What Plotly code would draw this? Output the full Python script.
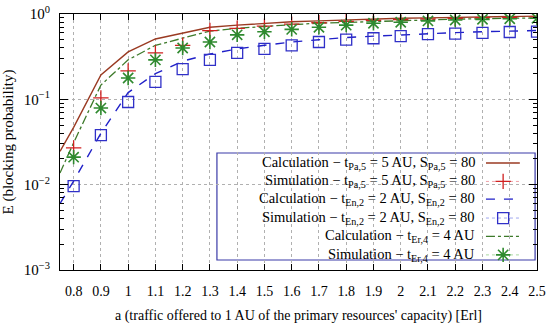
import plotly.graph_objects as go

# ---------------- data ----------------
a_calc = [0.75, 0.8, 0.9, 1.0, 1.1, 1.2, 1.3, 1.4, 1.5, 1.6, 1.7, 1.8, 1.9, 2.0, 2.1, 2.2, 2.3, 2.4, 2.5]
a_sim = [0.8, 0.9, 1.0, 1.1, 1.2, 1.3, 1.4, 1.5, 1.6, 1.7, 1.8, 1.9, 2.0, 2.1, 2.2, 2.3, 2.4, 2.5]

calc_pa = [0.0246, 0.047, 0.193, 0.36, 0.51, 0.60, 0.70, 0.74, 0.78, 0.81, 0.83, 0.855, 0.87, 0.89, 0.90, 0.915, 0.925, 0.935, 0.945]
sim_pa = [0.027, 0.104, 0.215, 0.35, 0.43, 0.64, 0.68, 0.72, 0.76, 0.79, 0.82, 0.84, 0.86, 0.875, 0.89, 0.905, 0.915, 0.925]

calc_en = [0.006, 0.011, 0.04, 0.12, 0.20, 0.28, 0.34, 0.39, 0.43, 0.47, 0.50, 0.53, 0.55, 0.57, 0.59, 0.605, 0.62, 0.63, 0.64]
sim_en = [0.0096, 0.038, 0.093, 0.16, 0.226, 0.29, 0.35, 0.39, 0.43, 0.47, 0.50, 0.52, 0.55, 0.58, 0.59, 0.60, 0.615, 0.62]

calc_er = [0.0137, 0.031, 0.147, 0.29, 0.43, 0.52, 0.63, 0.68, 0.72, 0.75, 0.78, 0.80, 0.82, 0.84, 0.855, 0.87, 0.88, 0.89, 0.90]
sim_er = [0.021, 0.079, 0.178, 0.29, 0.40, 0.47, 0.57, 0.62, 0.66, 0.70, 0.74, 0.78, 0.80, 0.83, 0.85, 0.866, 0.88, 0.89]

x_tickvals = [0.8, 0.9, 1.0, 1.1, 1.2, 1.3, 1.4, 1.5, 1.6, 1.7, 1.8, 1.9, 2.0, 2.1, 2.2, 2.3, 2.4, 2.5]
x_ticktext = ["0.8", "0.9", "1", "1.1", "1.2", "1.3", "1.4", "1.5", "1.6", "1.7", "1.8", "1.9", "2", "2.1", "2.2", "2.3", "2.4", "2.5"]
y_tickvals = [0.001, 0.01, 0.1, 1]
y_ticktext = ["10<sup>−3</sup>", "10<sup>−2</sup>", "10<sup>−1</sup>", "10<sup>0</sup>"]

legend_labels = [
    "Calculation − t<sub>Pa,5</sub> = 5 AU, S<sub>Pa,5</sub> = 80",
    "Simulation − t<sub>Pa,5</sub> = 5 AU, S<sub>Pa,5</sub> = 80",
    "Calculation − t<sub>En,2</sub> = 2 AU, S<sub>En,2</sub> = 80",
    "Simulation − t<sub>En,2</sub> = 2 AU, S<sub>En,2</sub> = 80",
    "Calculation − t<sub>Er,4</sub> = 4 AU",
    "Simulation − t<sub>Er,4</sub> = 4 AU",
]

# ---------------- styles ----------------
FONT = "Liberation Serif, Times New Roman, serif"
C_PA_LINE = "#9a3a22"
C_PA_MARK = "#d02020"
C_EN_LINE = "#2020c8"
C_EN_MARK = "#3030c8"
C_ER_LINE = "#3d7a2a"
C_ER_MARK = "#2f8a2f"

MK_PA = dict(symbol="cross-thin-open", size=11, color=C_PA_MARK, line=dict(width=1.3, color=C_PA_MARK))
MK_EN = dict(symbol="square-open", size=11, color=C_EN_MARK, line=dict(width=1.3, color=C_EN_MARK))
MK_ER = dict(symbol="asterisk-open", size=12, color=C_ER_MARK, line=dict(width=1.6, color=C_ER_MARK))

fig = go.Figure()

fig.add_trace(go.Scatter(x=a_calc, y=calc_pa, mode="lines",
                         line=dict(color=C_PA_LINE, width=1.4), showlegend=False))
fig.add_trace(go.Scatter(x=a_calc, y=calc_er, mode="lines",
                         line=dict(color=C_ER_LINE, width=1.3, dash="dashdot"), showlegend=False))
fig.add_trace(go.Scatter(x=a_calc, y=calc_en, mode="lines",
                         line=dict(color=C_EN_LINE, width=1.4, dash="dash"), showlegend=False))
fig.add_trace(go.Scatter(x=a_sim, y=sim_pa, mode="markers", marker=MK_PA, showlegend=False))
fig.add_trace(go.Scatter(x=a_sim, y=sim_en, mode="markers", marker=MK_EN, showlegend=False))
fig.add_trace(go.Scatter(x=a_sim, y=sim_er, mode="markers", marker=MK_ER, showlegend=False))

# ---------------- custom legend (symbols to the right of text) ----------------
leg_rows = [0.418, 0.346, 0.277, 0.203, 0.131, 0.059]
text_x = 0.874
samp_x0, samp_x1, samp_xm = 0.893, 0.964, 0.929
sample_styles = [
    ("line", C_PA_LINE, "solid", None),
    ("marker", "#f0a0a8", "dot", MK_PA),
    ("line", C_EN_LINE, "dash", None),
    ("marker", "#a0a8f0", "dot", MK_EN),
    ("line", C_ER_LINE, "dashdot", None),
    ("marker", "#a8d8a0", "dot", MK_ER),
]

shapes = [dict(type="rect", xref="paper", yref="paper", x0=0.329, x1=0.996, y0=0.039, y1=0.457,
               line=dict(color="#3a3aa8", width=1.2), fillcolor="white", layer="between")]
annotations = []
for lab, yy, (kind, col, dash, mk) in zip(legend_labels, leg_rows, sample_styles):
    annotations.append(dict(xref="paper", yref="paper", x=text_x, y=yy, text=lab, showarrow=False,
                            xanchor="right", yanchor="middle",
                            font=dict(family=FONT, size=14.5, color="black")))
    shapes.append(dict(type="line", xref="paper", yref="paper", x0=samp_x0, x1=samp_x1, y0=yy, y1=yy,
                       line=dict(color=col, width=1.3 if kind == "line" else 1, dash=dash), layer="between"))
    if mk is not None:
        fig.add_trace(go.Scatter(x=[samp_xm], y=[yy], mode="markers", marker=mk, showlegend=False,
                                 xaxis="x2", yaxis="y2", cliponaxis=False))

fig.update_layout(
    width=550, height=329,
    margin=dict(l=60, r=13, t=14, b=59, autoexpand=False),
    paper_bgcolor="white", plot_bgcolor="white",
    font=dict(family=FONT, size=14, color="black"),
    showlegend=False,
    hovermode=False,
    shapes=shapes,
    annotations=annotations,
    xaxis=dict(range=[0.75, 2.5], tickvals=x_tickvals, ticktext=x_ticktext, automargin=False,
               ticklabeloverflow="allow",
               ticks="inside", ticklen=6, tickcolor="black", showline=True, linecolor="black",
               linewidth=1.2, mirror="ticks", showgrid=True, gridcolor="#b0b0b0", griddash="dot",
               gridwidth=1, zeroline=False, ticklabelstandoff=8,
               tickfont=dict(family=FONT, size=14),
               title=dict(text="a (traffic offered to 1 AU of the primary resources' capacity) [Erl]",
                          font=dict(family=FONT, size=14), standoff=12)),
    yaxis=dict(type="log", range=[-3, 0], tickvals=y_tickvals, ticktext=y_ticktext, automargin=False,
               ticklabeloverflow="allow",
               ticks="inside", ticklen=8, tickcolor="black", showline=True, linecolor="black",
               linewidth=1.2, mirror="ticks", showgrid=True, gridcolor="#b0b0b0", griddash="dot",
               gridwidth=1, zeroline=False, ticklabelstandoff=6,
               tickfont=dict(family=FONT, size=15),
               minor=dict(ticks="inside", ticklen=4, tickcolor="black", dtick="D1", showgrid=False),
               title=dict(text="E (blocking probability)", font=dict(family=FONT, size=15), standoff=8)),
    xaxis2=dict(overlaying="x", range=[0, 1], visible=False, fixedrange=True, automargin=False),
    yaxis2=dict(overlaying="y", range=[0, 1], visible=False, fixedrange=True, automargin=False),
)

# remove the browser's default 8 px body margin so the figure fills the window exactly
fig.write_html("out.html", config={"displayModeBar": False},
               post_script="document.body.style.margin='0px';")
